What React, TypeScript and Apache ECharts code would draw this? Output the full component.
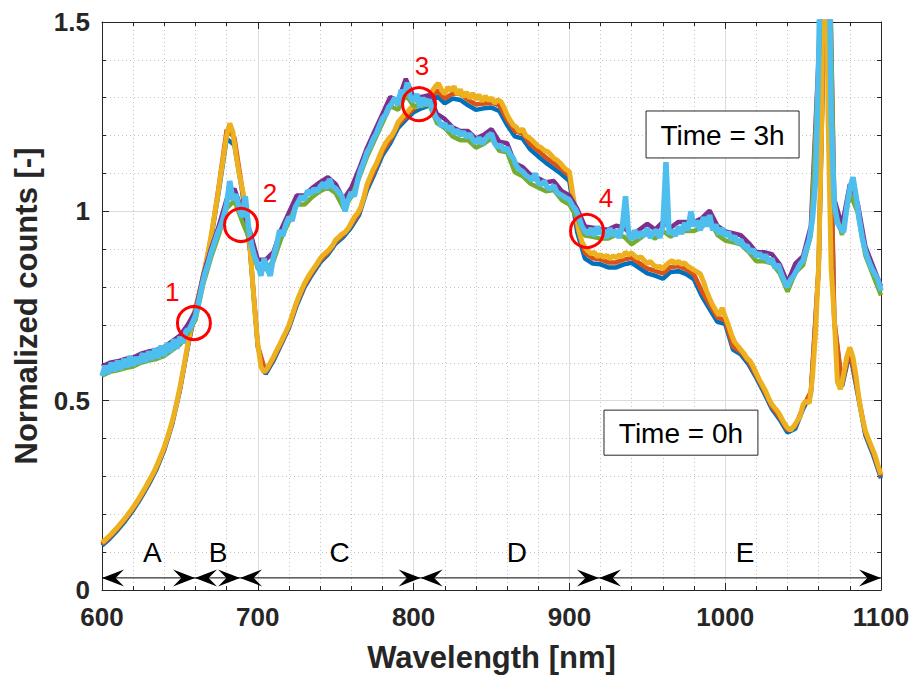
import React, { useEffect, useRef } from "react";
import * as echarts from "echarts";

// ---------- data ----------
const WL_START = 600;
const FINE_STEP = 2; // nm, for the top-most curve of each group
const COARSE_STEP = 5; // nm, for the curves underneath

// Time = 0h, yellow run (600..1100 nm, every 2 nm)
const time0hYellow = [
  0.125, 0.132, 0.140, 0.148, 0.157, 0.166, 0.176, 0.186, 0.196, 0.207,
  0.219, 0.231, 0.244, 0.258, 0.272, 0.287, 0.302, 0.318, 0.337, 0.357,
  0.378, 0.403, 0.430, 0.460, 0.495, 0.535, 0.578, 0.625, 0.670, 0.710,
  0.745, 0.778, 0.812, 0.850, 0.890, 0.935, 0.985, 1.035, 1.090, 1.145,
  1.200, 1.232, 1.210, 1.150, 1.100, 1.060, 1.020, 0.960, 0.850, 0.740,
  0.650, 0.590, 0.575, 0.585, 0.600, 0.615, 0.632, 0.648, 0.665, 0.682,
  0.700, 0.725, 0.750, 0.772, 0.792, 0.810, 0.825, 0.838, 0.850, 0.862,
  0.875, 0.885, 0.892, 0.900, 0.910, 0.925, 0.932, 0.940, 0.945, 0.955,
  0.970, 0.985, 0.995, 1.010, 1.035, 1.070, 1.090, 1.110, 1.125, 1.145,
  1.165, 1.180, 1.192, 1.200, 1.215, 1.235, 1.245, 1.255, 1.262, 1.272,
  1.280, 1.275, 1.290, 1.300, 1.292, 1.305, 1.318, 1.330, 1.338, 1.320,
  1.310, 1.328, 1.318, 1.330, 1.308, 1.322, 1.302, 1.315, 1.298, 1.312,
  1.295, 1.308, 1.290, 1.305, 1.292, 1.300, 1.285, 1.295, 1.290, 1.275,
  1.255, 1.240, 1.228, 1.222, 1.210, 1.218, 1.200, 1.195, 1.188, 1.180,
  1.172, 1.168, 1.160, 1.158, 1.150, 1.140, 1.135, 1.128, 1.118, 1.110,
  1.105, 1.050, 1.000, 0.950, 0.920, 0.905, 0.895, 0.888, 0.892, 0.880,
  0.886, 0.878, 0.884, 0.875, 0.882, 0.878, 0.885, 0.880, 0.892, 0.885,
  0.890, 0.882, 0.876, 0.880, 0.870, 0.862, 0.868, 0.858, 0.852, 0.855,
  0.848, 0.858, 0.865, 0.870, 0.862, 0.868, 0.860, 0.864, 0.855, 0.850,
  0.845, 0.840, 0.835, 0.815, 0.790, 0.770, 0.752, 0.738, 0.725, 0.745,
  0.722, 0.700, 0.675, 0.655, 0.645, 0.635, 0.625, 0.612, 0.605, 0.590,
  0.572, 0.555, 0.540, 0.525, 0.505, 0.490, 0.480, 0.470, 0.455, 0.440,
  0.428, 0.422, 0.432, 0.445, 0.458, 0.490, 0.500, 0.493, 0.560, 0.680,
  0.860, 1.250, 2.300, 1.250, 0.850, 0.720, 0.550, 0.530, 0.570, 0.615,
  0.640, 0.615, 0.565, 0.500, 0.455, 0.420, 0.398, 0.378, 0.358, 0.330,
  0.305,
];

// Time = 3h, light-blue run (600..1100 nm, every 2 nm)
const time3hLightBlue = [
  0.565, 0.592, 0.572, 0.600, 0.578, 0.605, 0.582, 0.610, 0.588, 0.618,
  0.592, 0.615, 0.598, 0.625, 0.602, 0.630, 0.608, 0.638, 0.612, 0.645,
  0.618, 0.652, 0.628, 0.662, 0.638, 0.668, 0.652, 0.685, 0.688, 0.705,
  0.725, 0.760, 0.800, 0.835, 0.860, 0.890, 0.915, 0.940, 0.960, 0.985,
  1.020, 1.080, 1.030, 1.045, 1.010, 0.985, 1.040, 0.960, 0.910, 0.880,
  0.860, 0.830, 0.875, 0.850, 0.830, 0.880, 0.910, 0.950, 0.935, 0.965,
  0.985, 0.975, 1.010, 1.025, 1.040, 1.030, 1.055, 1.045, 1.060, 1.052,
  1.065, 1.075, 1.060, 1.085, 1.065, 1.060, 1.050, 1.040, 1.000, 1.030,
  1.050, 1.040, 1.080, 1.110, 1.130, 1.155, 1.170, 1.190, 1.205, 1.225,
  1.245, 1.255, 1.275, 1.285, 1.300, 1.280, 1.320, 1.305, 1.340, 1.300,
  1.290, 1.310, 1.275, 1.300, 1.280, 1.295, 1.270, 1.250, 1.240, 1.225,
  1.232, 1.215, 1.225, 1.205, 1.215, 1.200, 1.210, 1.195, 1.205, 1.190,
  1.180, 1.195, 1.178, 1.190, 1.200, 1.205, 1.180, 1.170, 1.175, 1.160,
  1.168, 1.150, 1.140, 1.120, 1.110, 1.105, 1.095, 1.090, 1.082, 1.100,
  1.075, 1.070, 1.080, 1.062, 1.060, 1.068, 1.050, 1.045, 1.040, 1.035,
  1.030, 1.015, 1.005, 0.985, 0.960, 0.948, 0.940, 0.955, 0.935, 0.960,
  0.940, 0.950, 0.930, 0.955, 0.935, 0.950, 0.930, 0.960, 1.040, 0.940,
  0.925, 0.950, 0.930, 0.945, 0.935, 0.955, 0.930, 0.945, 0.950, 0.930,
  0.960, 1.130, 0.940, 0.950, 0.935, 0.960, 0.940, 0.970, 0.950, 1.000,
  0.960, 0.975, 0.950, 0.985, 0.960, 0.990, 0.950, 0.965, 0.940, 0.955,
  0.935, 0.945, 0.925, 0.935, 0.915, 0.925, 0.905, 0.910, 0.890, 0.900,
  0.880, 0.890, 0.875, 0.885, 0.865, 0.875, 0.850, 0.860, 0.835, 0.815,
  0.800, 0.820, 0.830, 0.845, 0.860, 0.870, 0.900, 0.925, 0.980, 1.080,
  1.400, 1.900, 2.300, 1.900, 1.250, 1.020, 0.970, 0.955, 0.945, 1.010,
  1.060, 1.090, 1.040, 0.980, 0.930, 0.895, 0.870, 0.850, 0.835, 0.820,
  0.790,
];

// Time = 0h, blue run (every 5 nm)
const time0hBlue = [
  0.117, 0.136, 0.158, 0.183, 0.211, 0.243, 0.279, 0.319, 0.370, 0.437,
  0.527, 0.640, 0.737, 0.823, 0.927, 1.054, 1.192, 1.175, 1.052, 0.897,
  0.642, 0.570, 0.605, 0.648, 0.692, 0.752, 0.800, 0.834, 0.865, 0.886,
  0.915, 0.933, 0.958, 0.990, 1.055, 1.100, 1.148, 1.180, 1.220, 1.242,
  1.262, 1.272, 1.280, 1.305, 1.285, 1.298, 1.294, 1.280, 1.268, 1.272,
  1.274, 1.265, 1.228, 1.198, 1.192, 1.163, 1.145, 1.128, 1.113, 1.098,
  1.080, 0.945, 0.875, 0.862, 0.860, 0.852, 0.852, 0.860, 0.864, 0.850,
  0.836, 0.830, 0.822, 0.840, 0.842, 0.834, 0.820, 0.776, 0.742, 0.708,
  0.703, 0.635, 0.622, 0.596, 0.560, 0.520, 0.478, 0.450, 0.416, 0.426,
  0.478, 0.518, 0.850, 1.800, 0.708, 0.538, 0.628, 0.518, 0.408, 0.356,
  0.295,
];

// Time = 0h, orange run (every 5 nm)
const time0hOrange = [
  0.121, 0.140, 0.162, 0.187, 0.215, 0.247, 0.283, 0.323, 0.374, 0.441,
  0.531, 0.644, 0.741, 0.827, 0.931, 1.068, 1.215, 1.195, 1.060, 0.902,
  0.646, 0.575, 0.610, 0.652, 0.696, 0.757, 0.805, 0.839, 0.870, 0.891,
  0.920, 0.938, 0.964, 0.996, 1.062, 1.108, 1.156, 1.188, 1.228, 1.250,
  1.271, 1.284, 1.292, 1.320, 1.298, 1.311, 1.310, 1.294, 1.282, 1.285,
  1.287, 1.280, 1.242, 1.212, 1.205, 1.177, 1.160, 1.142, 1.127, 1.111,
  1.093, 0.960, 0.890, 0.876, 0.873, 0.865, 0.865, 0.873, 0.877, 0.863,
  0.849, 0.843, 0.836, 0.853, 0.855, 0.847, 0.833, 0.789, 0.754, 0.720,
  0.712, 0.643, 0.629, 0.603, 0.566, 0.526, 0.484, 0.456, 0.422, 0.432,
  0.484, 0.524, 0.855, 1.800, 0.714, 0.544, 0.634, 0.524, 0.414, 0.362,
  0.300,
];

// Time = 3h, purple run (every 5 nm)
const time3hPurple = [
  0.590, 0.600, 0.604, 0.610, 0.614, 0.624, 0.630, 0.634, 0.642, 0.657,
  0.672, 0.700, 0.737, 0.832, 0.902, 0.962, 1.032, 1.060, 1.000, 0.947,
  0.872, 0.872, 0.892, 0.952, 0.997, 1.042, 1.042, 1.062, 1.077, 1.090,
  1.072, 1.032, 1.062, 1.112, 1.167, 1.212, 1.257, 1.302, 1.292, 1.350,
  1.302, 1.302, 1.307, 1.257, 1.244, 1.222, 1.212, 1.212, 1.192, 1.202,
  1.217, 1.184, 1.180, 1.127, 1.117, 1.097, 1.087, 1.077, 1.080, 1.054,
  1.042, 1.007, 0.960, 0.957, 0.952, 0.952, 0.962, 0.957, 0.937, 0.952,
  0.967, 0.952, 0.972, 0.957, 0.972, 0.972, 0.972, 0.982, 1.002, 0.962,
  0.947, 0.942, 0.937, 0.917, 0.892, 0.892, 0.887, 0.860, 0.812, 0.862,
  0.882, 0.962, 1.412, 2.100, 1.032, 0.962, 1.072, 1.022, 0.907, 0.854,
  0.802,
];

// Time = 3h, green run (every 5 nm)
const time3hGreen = [
  0.566, 0.576, 0.580, 0.586, 0.590, 0.600, 0.606, 0.610, 0.618, 0.633,
  0.648, 0.676, 0.713, 0.808, 0.878, 0.938, 1.008, 1.028, 0.973, 0.923,
  0.848, 0.848, 0.868, 0.928, 0.973, 1.018, 1.018, 1.038, 1.053, 1.063,
  1.048, 1.008, 1.038, 1.088, 1.143, 1.188, 1.233, 1.278, 1.268, 1.308,
  1.278, 1.278, 1.283, 1.233, 1.220, 1.198, 1.188, 1.188, 1.168, 1.178,
  1.193, 1.160, 1.156, 1.103, 1.093, 1.073, 1.063, 1.053, 1.056, 1.030,
  1.018, 0.983, 0.936, 0.933, 0.928, 0.928, 0.938, 0.933, 0.913, 0.928,
  0.943, 0.928, 0.948, 0.933, 0.948, 0.948, 0.948, 0.958, 0.978, 0.938,
  0.923, 0.918, 0.913, 0.893, 0.868, 0.868, 0.863, 0.836, 0.788, 0.838,
  0.858, 0.938, 1.388, 2.100, 1.008, 0.938, 1.048, 0.998, 0.883, 0.830,
  0.778,
];

// Annotations (data coordinates)
const circleCenters: [number, number][] = [
  [659.0, 0.705],
  [689.2, 0.964],
  [803.5, 1.283],
  [911.3, 0.948],
];
const circleNumbers = ["1", "2", "3", "4"];
const circleNumberPos: [number, number][] = [
  [645.0, 0.787],
  [707.8, 1.048],
  [805.4, 1.384],
  [923.5, 1.035],
];
const regionNames = ["A", "B", "C", "D", "E"];
const regionBounds = [600, 659.7, 688.6, 804.5, 919, 1100];
const regionLabelX = [632.3, 674.5, 752.5, 866.2, 1012.8];
const regionArrowY = 0.032;
const regionLabelY = 0.098;
const timeLabels = ["Time = 3h", "Time = 0h"];
// [left nm, top value, right nm, bottom value]
const timeBoxes: [number, number, number, number][] = [
  [949.2, 1.265, 1047.4, 1.141],
  [922.2, 0.475, 1021.0, 0.356],
];

const FONT = "'Liberation Sans', Arial, Helvetica, sans-serif";
const AX = "#262626";

function toPairs(values: number[], step: number) {
  return values.map((v, i) => [WL_START + step * i, v]);
}

export default function App() {
  const ref = useRef<HTMLDivElement>(null);

  useEffect(() => {
    if (!ref.current) return;
    const chart = echarts.init(ref.current, undefined, { renderer: "svg" });

    const mkSeries = (name: string, color: string, data: number[][], width: number) => ({
      name,
      type: "line",
      data,
      showSymbol: false,
      symbol: "none",
      lineStyle: { color, width },
      itemStyle: { color },
      clip: true,
    });

    const commonAxis = {
      axisLine: { show: true, onZero: false, lineStyle: { color: AX, width: 1 } },
      axisTick: { show: true, inside: true, length: 7, lineStyle: { color: AX } },
      minorTick: { show: true, splitNumber: 5, length: 4, lineStyle: { color: AX } },
    };

    const option: any = {
      animation: false,
      backgroundColor: "#ffffff",
      grid: {
        left: 102,
        right: 33,
        top: 22,
        bottom: 89,
        containLabel: false,
        show: false,
      },
      xAxis: [
        {
          type: "value",
          min: 600,
          max: 1100,
          interval: 100,
          position: "bottom",
          ...commonAxis,
          axisLabel: {
            fontSize: 26,
            fontWeight: "bold",
            color: AX,
            fontFamily: FONT,
            margin: 14,
            formatter: (v: number) => String(v),
          },
          splitLine: { show: true, lineStyle: { color: "#dcdcdc", width: 1 } },
          minorSplitLine: { show: true, lineStyle: { color: "#c4c4c4", width: 1, type: [1, 3] } },
          name: "Wavelength [nm]",
          nameLocation: "middle",
          nameGap: 52,
          nameTextStyle: { fontSize: 31, fontWeight: "bold", color: AX, fontFamily: FONT },
        },
        {
          type: "value",
          min: 600,
          max: 1100,
          interval: 100,
          position: "top",
          ...commonAxis,
          axisLabel: { show: false },
          splitLine: { show: false },
        },
      ],
      yAxis: [
        {
          type: "value",
          min: 0,
          max: 1.5,
          interval: 0.5,
          position: "left",
          ...commonAxis,
          axisLabel: {
            fontSize: 26,
            fontWeight: "bold",
            color: AX,
            fontFamily: FONT,
            margin: 12,
            formatter: (v: number) => String(v),
          },
          splitLine: { show: true, lineStyle: { color: "#dcdcdc", width: 1 } },
          minorSplitLine: { show: true, lineStyle: { color: "#c4c4c4", width: 1, type: [1, 3] } },
          name: "Normalized counts [-]",
          nameLocation: "middle",
          nameGap: 60,
          nameTextStyle: { fontSize: 31, fontWeight: "bold", color: AX, fontFamily: FONT },
        },
        {
          type: "value",
          min: 0,
          max: 1.5,
          interval: 0.5,
          position: "right",
          ...commonAxis,
          axisLabel: { show: false },
          splitLine: { show: false },
        },
      ],
      series: [
        mkSeries("0h-1", "#0072BD", toPairs(time0hBlue, COARSE_STEP), 4.5),
        mkSeries("0h-2", "#D95319", toPairs(time0hOrange, COARSE_STEP), 4.5),
        mkSeries("0h-3", "#EDB120", toPairs(time0hYellow, FINE_STEP), 5),
        mkSeries("3h-1", "#7E2F8E", toPairs(time3hPurple, COARSE_STEP), 4.5),
        mkSeries("3h-2", "#77AC30", toPairs(time3hGreen, COARSE_STEP), 4.5),
        mkSeries("3h-3", "#4DBEEE", toPairs(time3hLightBlue, FINE_STEP), 5.5),
      ],
    };

    chart.setOption(option);

    const px = (p: [number, number]) =>
      chart.convertToPixel({ xAxisIndex: 0, yAxisIndex: 0 }, p) as number[];

    const els: any[] = [];
    const L = 22;
    const W = 8.5;
    const N = 0.62;

    const textStyle = (text: string, fill: string, size: number) => ({
      text,
      fill,
      fontSize: size,
      fontFamily: FONT,
      align: "center",
      verticalAlign: "middle",
      textAlign: "center",
      textVerticalAlign: "middle",
    });

    // region double arrows
    for (let i = 0; i < regionNames.length; i++) {
      const a = px([regionBounds[i], regionArrowY]);
      const b = px([regionBounds[i + 1], regionArrowY]);
      els.push({
        type: "line",
        shape: { x1: a[0], y1: a[1], x2: b[0], y2: b[1] },
        style: { stroke: "#000", lineWidth: 1 },
        z: 100,
      });
      els.push({
        type: "polygon",
        shape: {
          points: [
            [a[0], a[1]],
            [a[0] + L, a[1] - W],
            [a[0] + L * N, a[1]],
            [a[0] + L, a[1] + W],
          ],
        },
        style: { fill: "#000" },
        z: 100,
      });
      els.push({
        type: "polygon",
        shape: {
          points: [
            [b[0], b[1]],
            [b[0] - L, b[1] - W],
            [b[0] - L * N, b[1]],
            [b[0] - L, b[1] + W],
          ],
        },
        style: { fill: "#000" },
        z: 100,
      });
      const t = px([regionLabelX[i], regionLabelY]);
      els.push({ type: "text", x: t[0], y: t[1], style: textStyle(regionNames[i], "#000", 28), z: 100 });
    }

    // red circles + numbers
    for (let i = 0; i < circleCenters.length; i++) {
      const c = px(circleCenters[i]);
      els.push({
        type: "circle",
        shape: { cx: c[0], cy: c[1], r: 16.5 },
        style: { fill: "none", stroke: "#FF0000", lineWidth: 3 },
        z: 100,
      });
      const t = px(circleNumberPos[i]);
      els.push({ type: "text", x: t[0], y: t[1], style: textStyle(circleNumbers[i], "#FF0000", 26), z: 100 });
    }

    // time boxes
    for (let i = 0; i < timeLabels.length; i++) {
      const [l, tp, r, bt] = timeBoxes[i];
      const p1 = px([l, tp]);
      const p2 = px([r, bt]);
      els.push({
        type: "rect",
        shape: { x: p1[0], y: p1[1], width: p2[0] - p1[0], height: p2[1] - p1[1] },
        style: { fill: "#ffffff", stroke: AX, lineWidth: 1 },
        z: 100,
      });
      els.push({
        type: "text",
        x: (p1[0] + p2[0]) / 2,
        y: (p1[1] + p2[1]) / 2 + 1,
        style: textStyle(timeLabels[i], "#000", 28),
        z: 101,
      });
    }

    chart.setOption({ graphic: els });

    return () => chart.dispose();
  }, []);

  return (
    <div
      ref={ref}
      style={{ position: "absolute", left: 0, top: 0, width: 914, height: 679 }}
    />
  );
}
